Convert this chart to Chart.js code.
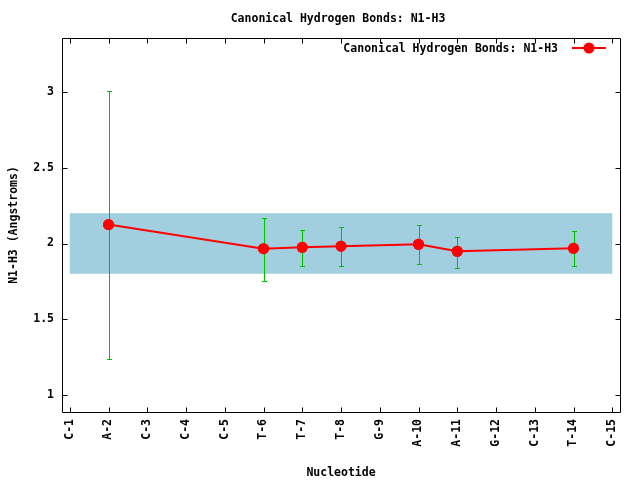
<!DOCTYPE html>
<html>
<head>
<meta charset="utf-8">
<script src="https://cdn.jsdelivr.net/npm/chart.js@4.4.0/dist/chart.umd.min.js"></script>
<style>
  html, body { margin: 0; padding: 0; background: #fff; }
  #wrap { width: 640px; height: 480px; }
</style>
</head>
<body>
<div id="wrap"><canvas id="hbChart" width="640" height="480"></canvas></div>
<script>
// nucleotides along the x axis
const nucleotides = ['C-1', 'A-2', 'C-3', 'C-4', 'C-5', 'T-6', 'T-7', 'T-8', 'G-9', 'A-10', 'A-11', 'G-12', 'C-13', 'T-14', 'C-15'];
// mean N1-H3 distance (null = no bond)
const meanDist = [null, 2.125, null, null, null, 1.966, 1.975, 1.982, null, 1.995, 1.949, null, null, 1.968, null];
const errLow  = [null, 1.239, null, null, null, 1.755, 1.852, 1.852, null, 1.865, 1.839, null, null, 1.852, null];
const errHigh = [null, 3.004, null, null, null, 2.166, 2.090, 2.110, null, 2.123, 2.043, null, null, 2.083, null];
const yTicks = [1, 1.5, 2, 2.5, 3];
const bandRange = [1.8, 2.2];
const seriesName = 'Canonical Hydrogen Bonds: N1-H3';

const FONT = 'bold 11.5px "DejaVu Sans Mono", monospace';
const fontObj = { family: '"DejaVu Sans Mono", monospace', size: 11.5, weight: 'bold' };

const points = [];
meanDist.forEach(function(v, i) {
    if (v !== null) points.push({ x: i + 1, y: v });
});

// light blue band behind the data
const bandPlugin = {
    id: 'band',
    beforeDatasetsDraw(chart) {
        const xs = chart.scales.x, ys = chart.scales.y, ctx = chart.ctx;
        const x1 = xs.getPixelForValue(1), x2 = xs.getPixelForValue(nucleotides.length);
        const y1 = ys.getPixelForValue(bandRange[1]), y2 = ys.getPixelForValue(bandRange[0]);
        ctx.save();
        ctx.fillStyle = '#a2cfdf';
        ctx.fillRect(x1, y1, x2 - x1, y2 - y1);
        ctx.restore();
    }
};

// error bars, frame with inward ticks, title, legend
const extrasPlugin = {
    id: 'extras',
    afterDatasetsDraw(chart) {
        const xs = chart.scales.x, ys = chart.scales.y, ctx = chart.ctx;
        ctx.save();
        ctx.strokeStyle = '#00c000';
        ctx.lineWidth = 1;
        meanDist.forEach(function(v, i) {
            if (v === null) return;
            const px = Math.round(xs.getPixelForValue(i + 1)) + 0.5;
            const top = Math.round(ys.getPixelForValue(errHigh[i])) + 0.5;
            const bot = Math.round(ys.getPixelForValue(errLow[i])) + 0.5;
            ctx.beginPath();
            ctx.moveTo(px, top); ctx.lineTo(px, bot);
            ctx.moveTo(px - 2.5, top); ctx.lineTo(px + 2.5, top);
            ctx.moveTo(px - 2.5, bot); ctx.lineTo(px + 2.5, bot);
            ctx.stroke();
        });
        // redraw points over the error bars
        chart.getDatasetMeta(0).data.forEach(function(pt) {
            ctx.fillStyle = '#ff0000';
            ctx.beginPath();
            ctx.arc(pt.x, pt.y, 5.5, 0, Math.PI * 2);
            ctx.fill();
        });
        ctx.restore();
    },
    afterDraw(chart) {
        const a = chart.chartArea, xs = chart.scales.x, ys = chart.scales.y, ctx = chart.ctx;
        const L = Math.round(a.left) + 0.5, R = Math.round(a.right) + 0.5;
        const T = Math.round(a.top) + 0.5, B = Math.round(a.bottom) + 0.5;
        ctx.save();
        ctx.strokeStyle = '#000';
        ctx.lineWidth = 1;
        ctx.beginPath();
        ctx.rect(L, T, R - L, B - T);
        yTicks.forEach(function(v) {
            const py = Math.round(ys.getPixelForValue(v)) + 0.5;
            ctx.moveTo(L, py); ctx.lineTo(L + 5, py);
            ctx.moveTo(R, py); ctx.lineTo(R - 5, py);
        });
        nucleotides.forEach(function(n, i) {
            const px = Math.round(xs.getPixelForValue(i + 1)) + 0.5;
            ctx.moveTo(px, B); ctx.lineTo(px, B - 5);
            ctx.moveTo(px, T); ctx.lineTo(px, T + 5);
        });
        ctx.stroke();

        ctx.font = FONT;
        ctx.fillStyle = '#000';
        ctx.textBaseline = 'middle';
        // chart title
        ctx.textAlign = 'center';
        ctx.fillText(seriesName, 338, 19);

        // legend, top right inside the plot
        const ly = 48;
        ctx.textAlign = 'right';
        ctx.fillText(seriesName, 558, ly + 1);
        ctx.strokeStyle = '#ff0000';
        ctx.lineWidth = 2;
        ctx.beginPath();
        ctx.moveTo(572, ly); ctx.lineTo(606, ly);
        ctx.stroke();
        ctx.fillStyle = '#ff0000';
        ctx.beginPath();
        ctx.arc(589, ly, 5.5, 0, Math.PI * 2);
        ctx.fill();
        ctx.restore();
    }
};

const ctx = document.getElementById('hbChart').getContext('2d');
const hbChart = new Chart(ctx, {
    type: 'line',
    data: {
        datasets: [{
            label: seriesName,
            data: points,
            borderColor: '#ff0000',
            backgroundColor: '#ff0000',
            borderWidth: 2,
            pointRadius: 5.5,
            pointBackgroundColor: '#ff0000',
            pointBorderWidth: 0,
            tension: 0
        }]
    },
    options: {
        responsive: false,
        animation: false,
        events: [],
        layout: { padding: { left: 7, right: 20, top: 38, bottom: 0 } },
        plugins: {
            legend: { display: false },
            tooltip: { enabled: false },
            title: { display: false }
        },
        scales: {
            x: {
                type: 'linear',
                min: 0.8,
                max: 15.2,
                grid: { display: false, drawTicks: false },
                border: { display: false },
                afterBuildTicks: function(scale) {
                    scale.ticks = nucleotides.map(function(n, i) { return { value: i + 1 }; });
                },
                afterFit: function(scale) { scale.height = 68; },
                ticks: {
                    autoSkip: false,
                    minRotation: 90,
                    maxRotation: 90,
                    padding: 7,
                    color: '#000',
                    font: fontObj,
                    callback: function(v) { return nucleotides[v - 1] || ''; }
                },
                title: {
                    display: true,
                    text: 'Nucleotide',
                    color: '#000',
                    font: fontObj,
                    padding: 0
                }
            },
            y: {
                min: 0.889,
                max: 3.355,
                grid: { display: false, drawTicks: false },
                border: { display: false },
                afterBuildTicks: function(scale) {
                    scale.ticks = yTicks.map(function(v) { return { value: v }; });
                },
                afterFit: function(scale) { scale.width = 55; },
                ticks: {
                    padding: 8,
                    color: '#000',
                    font: fontObj,
                    callback: function(v) { return String(v); }
                },
                title: {
                    display: true,
                    text: 'N1-H3 (Angstroms)',
                    color: '#000',
                    font: fontObj,
                    padding: 0
                }
            }
        }
    },
    plugins: [bandPlugin, extrasPlugin]
});
</script>
</body>
</html>
